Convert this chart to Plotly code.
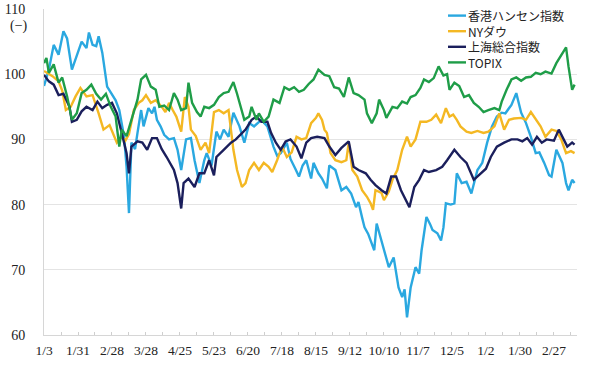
import pandas as pd
import plotly.graph_objects as go

BASE_DATE = "2022-01-03"

series_names = ["香港ハンセン指数", "NYダウ", "上海総合指数", "TOPIX"]
series_colors = ["#2aa8e0", "#f4b823", "#1b1f5c", "#1f9d48"]

hs_days = [0, 4, 8, 12, 16, 19, 23, 27, 31, 35, 37, 40, 43, 45, 48, 52, 55, 59, 62, 66, 68, 70, 72, 75, 77, 80, 82, 86, 89, 91,
           93, 96, 99, 103, 107, 110, 113, 117, 121, 124, 128, 132, 134, 138, 142, 145, 148, 152, 156, 161, 165, 169, 173, 179,
           184, 189, 192, 195, 200, 203, 207, 210, 213, 216, 220, 222, 226, 229, 233, 235, 240, 245, 249, 253, 257, 259, 262,
           264, 267, 269, 272, 274, 277, 280, 284, 288, 292, 295, 297, 299, 302, 306, 309, 311, 315, 318, 320, 324, 327, 329,
           331, 335, 338, 340, 344, 348, 352, 357, 361, 365, 369, 373, 377, 380, 385, 389, 393, 397, 401, 405, 408, 412, 416,
           418, 422, 427, 430, 432, 435, 437]
hs_vals = [98.2, 100.7, 104.5, 103.0, 106.6, 105.5, 100.7, 103.0, 105.0, 104.0, 106.4, 104.5, 104.3, 105.8, 103.3, 98.1, 97.2,
           96.0, 94.5, 90.4, 85.8, 78.7, 89.5, 88.5, 91.0, 94.5, 92.0, 94.8, 94.0, 95.0, 93.0, 92.0, 90.7, 90.0, 90.2, 88.4,
           85.3, 90.0, 90.2, 86.8, 83.3, 86.8, 87.9, 86.0, 91.2, 90.0, 91.5, 90.4, 94.1, 92.0, 89.5, 92.5, 92.0, 93.0, 92.0,
           88.9, 87.5, 87.9, 89.5, 87.0, 85.5, 84.3, 86.0, 86.8, 84.0, 86.4, 84.8, 84.0, 82.5, 86.0, 85.3, 82.2, 82.7, 81.7,
           79.6, 80.4, 78.0, 76.5, 75.5, 74.5, 73.0, 77.1, 75.0, 73.0, 70.4, 71.9, 67.3, 65.8, 67.0, 62.7, 67.3, 70.4, 69.4,
           73.0, 78.1, 77.0, 76.1, 75.6, 74.5, 76.5, 80.2, 80.0, 80.2, 84.8, 83.3, 83.5, 81.7, 85.3, 86.4, 89.5, 92.0, 93.5,
           94.1, 94.0, 95.3, 97.1, 94.1, 92.5, 90.4, 87.9, 88.0, 86.4, 84.5, 84.3, 88.4, 86.4, 83.3, 82.2, 83.8, 83.3]

ny_days = [0, 4, 7, 12, 15, 18, 22, 26, 30, 35, 40, 45, 49, 54, 56, 60, 64, 67, 70, 74, 78, 81, 84, 88, 92, 97, 100, 103, 106,
           109, 113, 116, 119, 121, 125, 129, 133, 136, 140, 144, 148, 152, 156, 159, 163, 166, 169, 173, 177, 181, 185, 188,
           192, 196, 200, 204, 208, 212, 216, 220, 224, 226, 229, 231, 233, 236, 240, 245, 249, 251, 254, 258, 262, 266, 269,
           271, 273, 278, 280, 284, 287, 291, 295, 299, 302, 306, 310, 315, 319, 323, 327, 331, 334, 337, 340, 343, 348, 352,
           357, 362, 366, 371, 375, 379, 383, 387, 393, 397, 401, 405, 409, 413, 418, 422, 426, 430, 434, 437]
ny_vals = [100.5, 100.0, 99.7, 98.9, 97.5, 94.5, 95.0, 96.6, 97.9, 96.6, 96.8, 94.0, 91.5, 92.2, 91.2, 89.5, 90.4, 89.8, 90.8,
           94.5, 95.6, 96.0, 96.8, 95.6, 96.0, 95.0, 94.2, 95.6, 94.5, 93.5, 91.2, 96.5, 95.0, 91.5, 90.5, 88.4, 89.5, 87.9,
           94.2, 94.5, 94.0, 94.5, 88.4, 85.3, 82.7, 83.3, 85.3, 86.4, 85.3, 86.4, 85.8, 85.0, 86.8, 88.9, 87.3, 88.0, 90.4,
           90.0, 90.2, 92.5, 93.3, 94.0, 93.0, 91.5, 91.0, 87.9, 86.8, 86.5, 86.8, 89.5, 85.3, 84.3, 82.2, 81.2, 80.2, 79.2,
           82.2, 81.8, 80.7, 82.0, 83.8, 85.3, 88.4, 90.4, 88.9, 90.0, 92.7, 92.7, 93.0, 93.8, 92.5, 94.8, 93.5, 93.8, 93.0,
           92.0, 91.2, 91.0, 91.3, 91.0, 91.2, 92.0, 94.0, 91.5, 93.0, 93.2, 93.3, 93.0, 94.2, 93.0, 92.0, 90.4, 91.5, 91.3,
           90.0, 87.9, 88.2, 87.9]

sh_days = [0, 4, 8, 12, 16, 21, 23, 27, 31, 35, 40, 44, 48, 52, 56, 60, 64, 68, 70, 72, 77, 81, 85, 89, 93, 97, 101, 105, 107,
           110, 113, 115, 119, 124, 128, 132, 136, 140, 142, 148, 154, 158, 162, 166, 171, 175, 179, 184, 187, 191, 195, 199,
           203, 208, 212, 216, 220, 225, 231, 235, 240, 245, 251, 255, 259, 265, 269, 273, 278, 282, 286, 290, 294, 298, 301,
           305, 309, 313, 317, 323, 328, 332, 336, 338, 343, 348, 354, 360, 364, 368, 373, 379, 385, 390, 394, 398, 402, 406,
           410, 414, 420, 424, 428, 431, 435, 437]
sh_vals = [99.9, 98.9, 98.4, 96.8, 97.0, 95.0, 92.7, 93.0, 94.3, 95.0, 94.5, 95.8, 94.8, 95.3, 95.6, 94.0, 91.0, 87.9, 84.8,
           88.9, 89.7, 89.5, 88.4, 90.2, 90.2, 88.5, 87.3, 85.8, 85.3, 83.3, 79.4, 83.3, 84.0, 82.7, 84.8, 84.8, 86.8, 84.5,
           87.3, 88.4, 89.5, 90.0, 90.7, 91.5, 93.0, 93.5, 92.7, 92.7, 91.0, 89.5, 88.4, 89.7, 90.0, 88.9, 87.1, 89.5, 90.2,
           90.4, 90.2, 88.9, 87.6, 88.7, 89.7, 85.8, 85.3, 84.8, 83.8, 83.0, 82.2, 81.7, 84.3, 84.3, 82.2, 80.7, 79.6, 82.7,
           83.8, 85.3, 85.0, 85.3, 85.8, 86.8, 88.0, 88.4, 87.3, 86.4, 83.8, 84.8, 85.5, 87.3, 88.9, 89.5, 90.0, 90.0, 89.7,
           90.2, 89.2, 90.4, 89.5, 90.0, 89.8, 91.5, 90.0, 88.9, 89.5, 89.2]

tp_days = [0, 2, 4, 8, 12, 15, 19, 23, 27, 31, 35, 39, 43, 47, 51, 55, 59, 62, 64, 68, 72, 77, 80, 84, 88, 92, 95, 99, 103,
           107, 110, 113, 117, 119, 122, 126, 129, 132, 136, 140, 144, 148, 152, 156, 159, 162, 165, 169, 171, 175, 177, 181,
           185, 189, 194, 198, 202, 206, 210, 214, 218, 222, 226, 231, 235, 239, 243, 247, 251, 255, 259, 264, 266, 270, 274,
           276, 280, 282, 287, 291, 295, 299, 302, 306, 310, 313, 317, 321, 325, 329, 332, 334, 338, 342, 346, 350, 354, 358,
           362, 366, 371, 375, 377, 381, 385, 389, 393, 397, 401, 405, 409, 413, 418, 422, 427, 430, 432, 435, 437]
tp_vals = [101.7, 102.5, 100.2, 101.5, 98.7, 99.5, 96.6, 93.0, 94.0, 97.1, 97.6, 98.4, 97.0, 96.1, 97.0, 95.0, 93.5, 88.9,
           91.5, 90.5, 93.0, 96.1, 99.2, 99.9, 98.1, 97.6, 95.0, 95.2, 94.5, 97.1, 96.1, 94.5, 94.8, 98.7, 95.6, 94.2, 93.5,
           95.0, 94.8, 95.3, 96.5, 97.1, 97.3, 98.8, 97.0, 95.0, 93.0, 93.5, 95.0, 93.0, 94.0, 92.7, 93.5, 96.1, 95.6, 98.0,
           97.6, 98.0, 97.3, 97.6, 98.5, 99.2, 100.7, 99.9, 99.7, 98.0, 97.8, 96.5, 99.5, 97.1, 96.8, 96.1, 94.0, 92.5, 94.0,
           96.1, 94.5, 93.3, 95.0, 94.8, 95.8, 95.5, 96.5, 96.8, 97.9, 99.2, 98.8, 99.4, 101.2, 99.8, 100.0, 97.6, 98.7, 98.2,
           96.5, 96.8, 95.6, 95.0, 94.2, 94.5, 94.8, 94.5, 95.8, 97.6, 99.2, 99.5, 99.0, 99.5, 99.6, 100.2, 100.0, 100.4,
           100.1, 101.7, 103.3, 104.1, 101.2, 97.6, 98.4]

tick_dates = ["2022-01-03", "2022-01-31", "2022-02-28", "2022-03-28", "2022-04-25", "2022-05-23", "2022-06-20",
              "2022-07-18", "2022-08-15", "2022-09-12", "2022-10-10", "2022-11-07", "2022-12-05", "2023-01-02",
              "2023-01-30", "2023-02-27"]
tick_labels = ["1/3", "1/31", "2/28", "3/28", "4/25", "5/23", "6/20", "7/18", "8/15", "9/12", "10/10", "11/7",
               "12/5", "1/2", "1/30", "2/27"]
y_ticks = [60, 70, 80, 90, 100, 110]

all_days = [hs_days, ny_days, sh_days, tp_days]
all_vals = [hs_vals, ny_vals, sh_vals, tp_vals]

SERIF = "Liberation Serif, Times New Roman, serif"
LEG_FONT = 12
LEG_LINE = LEG_FONT * 1.3  # plotly multi-line spacing

base = pd.Timestamp(BASE_DATE)
fig = go.Figure()
for name, color, days, vals in zip(series_names, series_colors, all_days, all_vals):
    dates = [base + pd.Timedelta(days=d) for d in days]
    fig.add_trace(go.Scatter(x=dates, y=vals, mode="lines", name=name,
                             line=dict(color=color, width=2.4), showlegend=False))

W, H = 600, 371
ML, MR, MT, MB = 44, 23, 9, 36
pw, ph = W - ML - MR, H - MT - MB


def px_x(p):
    return (p - ML) / pw


def px_y(p):
    return (H - MB - p) / ph


# legend drawn manually as one multi-line text block + colour keys
leg_center = 39.0
n = len(series_names)
shapes = []
for i, color in enumerate(series_colors):
    ry = leg_center + (i - (n - 1) / 2) * LEG_LINE
    shapes.append(dict(type="line", xref="paper", yref="paper", x0=px_x(448), x1=px_x(466),
                       y0=px_y(ry), y1=px_y(ry), line=dict(color=color, width=2.4)))

annotations = [
    dict(xref="paper", yref="paper", x=px_x(467), y=px_y(leg_center), text="<br>".join(series_names),
         showarrow=False, xanchor="left", yanchor="middle", align="left", borderpad=0,
         font=dict(family="Noto Sans CJK JP", size=LEG_FONT, color="#222")),
    dict(xref="paper", yref="paper", x=px_x(19), y=px_y(26), text="(−)", showarrow=False,
         xanchor="center", yanchor="middle",
         font=dict(family=SERIF, size=14, color="#222")),
]

fig.update_layout(
    width=W, height=H,
    margin=dict(l=ML, r=MR, t=MT, b=MB, autoexpand=False),
    paper_bgcolor="white", plot_bgcolor="white",
    shapes=shapes, annotations=annotations,
    xaxis=dict(type="date", range=["2022-01-03", "2023-03-18"], automargin=False,
               tickmode="array", tickvals=tick_dates, ticktext=tick_labels,
               ticks="inside", ticklen=3, tickcolor="#cfcfcf", tickwidth=1,
               minor=dict(ticks="inside", ticklen=3, tickcolor="#cfcfcf", tickwidth=1,
                          tick0="2022-01-17", dtick=14 * 86400000),
               showline=True, linecolor="#d6d6d6", linewidth=1, showgrid=False, zeroline=False,
               tickfont=dict(family=SERIF, size=13.5, color="#222"), ticklabelstandoff=3),
    yaxis=dict(range=[60, 110], tickmode="array", tickvals=y_ticks, automargin=False,
               showgrid=True, gridcolor="#e4e4e4", gridwidth=1,
               showline=True, linecolor="#d6d6d6", linewidth=1, zeroline=False, ticks="",
               tickfont=dict(family=SERIF, size=14, color="#222"), ticklabelstandoff=15),
)

fig.write_html("out.html", config={"displayModeBar": False},
               post_script="document.body.style.margin='0';document.body.style.padding='0';")
